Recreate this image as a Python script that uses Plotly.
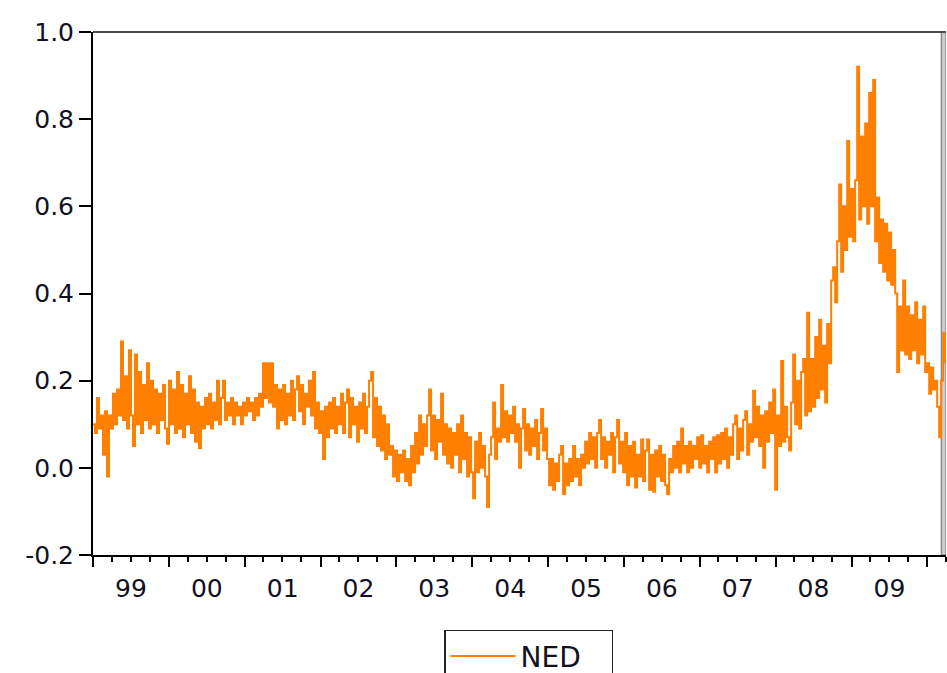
import pandas as pd
import plotly.graph_objects as go

# NED series (roughly every ~10 trading days), Jan 1999 - Mar 2010
ned_1999 = [0.10, 0.08, 0.16, 0.09, 0.12, 0.03, 0.13, -0.02, 0.12, 0.09, 0.17, 0.10, 0.18, 0.12, 0.29, 0.11, 0.21, 0.09, 0.27,
            0.12, 0.05, 0.26, 0.10, 0.22, 0.08, 0.19, 0.11, 0.24, 0.09, 0.20, 0.10, 0.18, 0.08, 0.17, 0.11, 0.19, 0.09, 0.055]
ned_2000 = [0.20, 0.10, 0.18, 0.08, 0.22, 0.09, 0.19, 0.07, 0.17, 0.10, 0.21, 0.08, 0.18, 0.06, 0.15, 0.045, 0.14, 0.09, 0.16,
            0.10, 0.17, 0.09, 0.15, 0.11, 0.20, 0.10, 0.16, 0.20, 0.11, 0.15, 0.12, 0.16, 0.10, 0.15, 0.12, 0.14, 0.10, 0.15]
ned_2001 = [0.12, 0.16, 0.13, 0.15, 0.11, 0.16, 0.12, 0.17, 0.14, 0.24, 0.16, 0.24, 0.15, 0.24, 0.14, 0.19, 0.09, 0.18, 0.11,
            0.19, 0.10, 0.17, 0.12, 0.20, 0.11, 0.18, 0.21, 0.13, 0.19, 0.10, 0.17, 0.14, 0.20, 0.12, 0.22, 0.09, 0.15, 0.08]
ned_2002 = [0.13, 0.02, 0.14, 0.07, 0.15, 0.09, 0.16, 0.08, 0.14, 0.10, 0.17, 0.08, 0.15, 0.18, 0.07, 0.16, 0.10, 0.14, 0.06,
            0.15, 0.09, 0.17, 0.08, 0.14, 0.20, 0.22, 0.07, 0.16, 0.05, 0.14, 0.04, 0.12, 0.02, 0.10, 0.03, 0.05, -0.02, 0.04]
ned_2003 = [-0.03, 0.03, -0.01, 0.04, -0.03, 0.02, -0.04, 0.05, -0.01, 0.08, 0.01, 0.12, 0.03, 0.10, 0.05, 0.12, 0.18, 0.04, 0.12,
            0.02, 0.11, 0.06, 0.17, 0.03, 0.10, 0.01, 0.09, 0.00, 0.08, 0.03, 0.10, -0.01, 0.12, 0.02, 0.08, -0.02, 0.07, -0.01]
ned_2004 = [-0.07, 0.06, -0.01, 0.08, 0.00, 0.05, -0.02, -0.09, 0.03, 0.07, 0.15, 0.02, 0.09, 0.06, 0.19, 0.07, 0.13, 0.06, 0.12,
            0.08, 0.14, 0.06, 0.10, 0.00, 0.09, 0.135, 0.04, 0.10, 0.03, 0.09, 0.05, 0.11, 0.02, 0.08, 0.135, 0.04, 0.09, 0.02]
ned_2005 = [-0.04, 0.02, -0.05, 0.01, -0.03, 0.03, 0.05, -0.06, 0.01, -0.04, 0.02, -0.03, 0.05, -0.02, 0.02, -0.04, 0.03, 0.00, 0.06,
            0.01, 0.08, 0.02, 0.07, 0.00, 0.08, 0.11, 0.02, 0.07, 0.00, 0.06, 0.03, 0.08, -0.01, 0.07, 0.11, 0.01, 0.06, -0.01]
ned_2006 = [0.08, -0.04, 0.05, -0.02, 0.06, -0.045, 0.03, -0.02, 0.065, -0.03, 0.04, 0.065, -0.05, 0.03, -0.055, 0.04, -0.02, 0.05, -0.03,
            0.03, -0.04, -0.06, 0.02, -0.01, 0.05, 0.00, 0.06, -0.01, 0.09, 0.01, 0.05, -0.01, 0.06, 0.00, 0.05, 0.02, 0.07, 0.00]
ned_2007 = [0.075, 0.01, 0.05, -0.01, 0.06, 0.02, 0.07, -0.01, 0.075, 0.01, 0.08, 0.02, 0.09, 0.00, 0.07, 0.03, 0.10, 0.12, 0.02,
            0.09, 0.04, 0.11, 0.13, 0.03, 0.10, 0.06, 0.177, 0.07, 0.14, 0.05, 0.12, 0.00, 0.13, 0.06, 0.15, 0.08, 0.18, -0.05]
ned_2008 = [0.12, 0.05, 0.245, 0.06, 0.14, 0.07, 0.04, 0.15, 0.26, 0.10, 0.20, 0.09, 0.22, 0.25, 0.12, 0.356, 0.13, 0.25, 0.14,
            0.30, 0.16, 0.34, 0.18, 0.28, 0.15, 0.33, 0.24, 0.43, 0.46, 0.38, 0.52, 0.65, 0.45, 0.60, 0.50, 0.75, 0.53, 0.64]
ned_2009 = [0.52, 0.66, 0.92, 0.57, 0.76, 0.60, 0.79, 0.56, 0.86, 0.60, 0.89, 0.52, 0.62, 0.47, 0.57, 0.45, 0.56, 0.43, 0.54,
            0.42, 0.50, 0.40, 0.22, 0.37, 0.27, 0.43, 0.26, 0.37, 0.25, 0.35, 0.27, 0.38, 0.24, 0.34, 0.26, 0.37, 0.22, 0.24]
ned_2010 = [0.17, 0.23, 0.18, 0.20, 0.14, 0.07, 0.20, 0.31, 0.24]

ned = (ned_1999 + ned_2000 + ned_2001 + ned_2002 + ned_2003 + ned_2004 + ned_2005
       + ned_2006 + ned_2007 + ned_2008 + ned_2009 + ned_2010)
dates = pd.date_range("1999-01-01", "2010-03-28", periods=len(ned))

y_ticks = [-0.2, 0.0, 0.2, 0.4, 0.6, 0.8, 1.0]
y_tick_text = ["-0.2", "0.0", "0.2", "0.4", "0.6", "0.8", "1.0"]

fig = go.Figure()
fig.add_trace(go.Scatter(x=dates, y=ned, mode="lines", name="NED",
                         line=dict(color="#ff8000", width=2, shape="hv")))

font_family = "DejaVu Sans, Liberation Sans, Arial, sans-serif"

fig.update_layout(
    width=947, height=673,
    margin=dict(l=93, r=1, t=32, b=118, autoexpand=False),
    paper_bgcolor="white", plot_bgcolor="white",
    font=dict(family=font_family, size=24, color="#111122"),
    showlegend=True,
    legend=dict(x=0.4115, y=-0.143, xanchor="left", yanchor="top",
                orientation="h", bordercolor="#222222", borderwidth=1.5,
                font=dict(size=28, family=font_family, color="#111122"),
                itemwidth=65, entrywidth=86, bgcolor="white"),
    xaxis=dict(type="date", range=["1999-01-01", "2010-04-01"],
               showgrid=False, zeroline=False,
               showline=True, linecolor="black", linewidth=2,
               ticks="outside", ticklen=10, tickwidth=2, tickcolor="black",
               dtick="M12", tick0="1999-01-01", tickformat="%y",
               ticklabelmode="period",
               minor=dict(dtick="M3", ticks="outside", ticklen=5, tickwidth=2,
                          tickcolor="black", showgrid=False),
               tickfont=dict(size=25)),
    yaxis=dict(range=[-0.2, 1.0], tickvals=y_ticks, ticktext=y_tick_text,
               showgrid=False, zeroline=False,
               showline=True, linecolor="black", linewidth=2,
               ticks="outside", ticklen=12, tickwidth=2, tickcolor="black",
               tickfont=dict(size=25)),
    shapes=[
        dict(type="line", xref="paper", yref="paper", x0=0, x1=1, y0=1, y1=1,
             line=dict(color="#4a4a4a", width=2)),
        dict(type="rect", xref="x", yref="paper", x0="2010-03-10", x1="2010-04-01",
             y0=0, y1=1, layer="below", fillcolor="#d0d0d0",
             line=dict(color="#8a8a8a", width=1.5)),
    ],
)

fig.write_html("out.html")
